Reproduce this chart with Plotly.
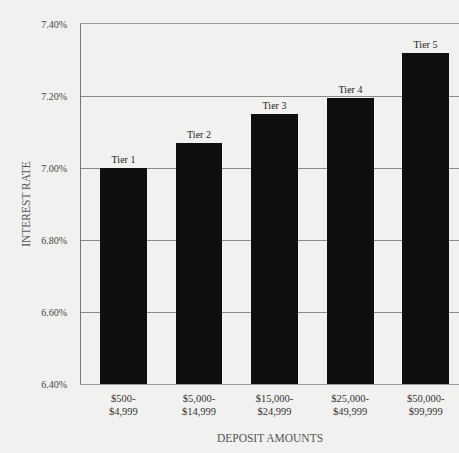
import plotly.graph_objects as go

categories = ["$500-<br>$4,999", "$5,000-<br>$14,999", "$15,000-<br>$24,999",
              "$25,000-<br>$49,999", "$50,000-<br>$99,999"]
tiers = ["Tier 1", "Tier 2", "Tier 3", "Tier 4", "Tier 5"]
rates = [7.00, 7.07, 7.15, 7.195, 7.32]
ytick_vals = [6.40, 6.60, 6.80, 7.00, 7.20, 7.40]
ytick_text = ["6.40%", "6.60%", "6.80%", "7.00%", "7.20%", "7.40%"]

bg = "#f1f1ef"
font = "Liberation Serif"

fig = go.Figure(go.Bar(
    x=list(range(len(categories))),
    y=rates,
    width=0.62,
    marker=dict(color="#0e0e0e", line=dict(width=0)),
    text=tiers,
    textposition="outside",
    textfont=dict(family=font, size=10, color="#222"),
    cliponaxis=False,
))

fig.update_layout(
    width=459, height=453,
    margin=dict(l=81, r=0, t=24, b=69),
    paper_bgcolor=bg, plot_bgcolor=bg,
    font=dict(family=font, size=9, color="#444"),
    showlegend=False,
    bargap=0,
)
fig.update_xaxes(
    range=[-0.56, 4.44],
    tickvals=list(range(len(categories))), ticktext=categories,
    tickfont=dict(family=font, size=10.5, color="#333"),
    showgrid=False, zeroline=False,
    showline=True, linecolor="#999", linewidth=1, mirror=True,
    ticks="outside", ticklen=4, tickcolor=bg,
    title=dict(text="DEPOSIT AMOUNTS", font=dict(family=font, size=11.5, color="#555"), standoff=17),
)
fig.update_yaxes(
    range=[6.40, 7.40],
    tickvals=ytick_vals, ticktext=ytick_text,
    tickfont=dict(family=font, size=10, color="#444"),
    showgrid=True, gridcolor="#8a8a8a", gridwidth=1,
    zeroline=False,
    showline=True, linecolor="#777", linewidth=1,
    ticks="outside", ticklen=11, tickcolor=bg,
    title=dict(text="INTEREST RATE", font=dict(family=font, size=11.5, color="#555"), standoff=8),
)

fig.write_html(
    "out.html",
    config={"displayModeBar": False},
    post_script="document.body.style.margin='0';document.body.style.overflow='hidden';"
                "document.body.style.background='" + bg + "';",
)
